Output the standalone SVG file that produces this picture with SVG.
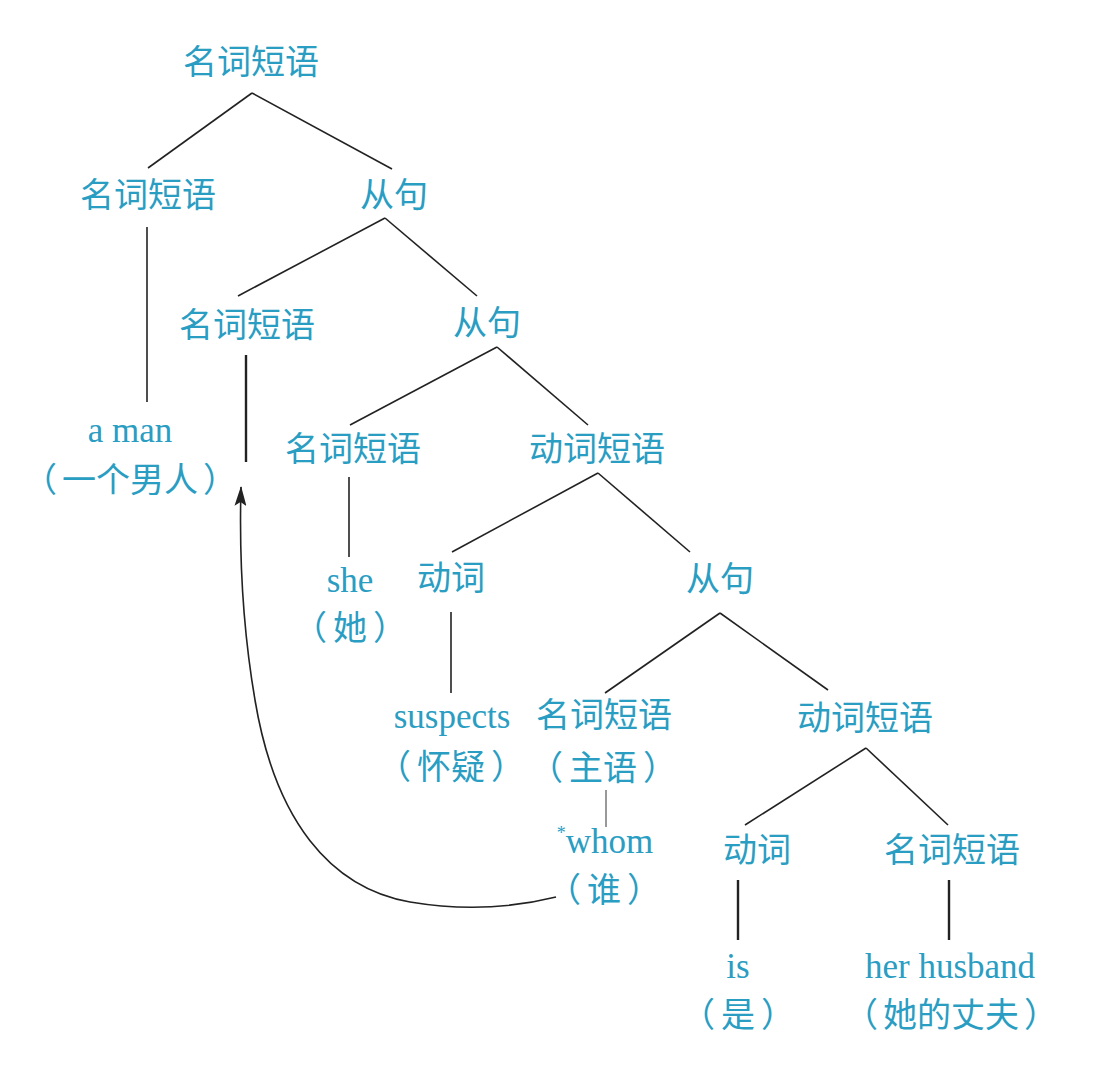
<svg xmlns="http://www.w3.org/2000/svg" width="1096" height="1076" viewBox="0 0 1096 1076">
<style>
.zh{font-family:"Noto Sans CJK SC","Noto Sans CJK JP",sans-serif;font-size:34px;fill:#2a9dc2;text-anchor:middle}
.en{font-family:"Liberation Serif","Times New Roman",serif;font-size:35px;fill:#2a9dc2;text-anchor:middle}
.ln{stroke:#222;stroke-width:1.6;fill:none}
.lt{stroke:#222;stroke-width:2.4;fill:none}
.th{stroke:#333;stroke-width:1;fill:none}
</style>
<defs>
<marker id="ah" viewBox="0 0 20 12" refX="19" refY="6" markerWidth="20" markerHeight="12" markerUnits="userSpaceOnUse" orient="auto">
<path d="M0,0 L20,6 L0,12 L4,6 Z" fill="#222"/>
</marker>
</defs>
<rect width="1096" height="1076" fill="#fff"/>
<g id="connectors">
<line class="ln" x1="252" y1="93" x2="148" y2="168"/>
<line class="ln" x1="252" y1="93" x2="392" y2="169"/>
<line class="ln" x1="147" y1="227" x2="147" y2="402"/>
<line class="ln" x1="385" y1="218" x2="238" y2="296"/>
<line class="ln" x1="385" y1="218" x2="477" y2="296"/>
<line class="lt" x1="246" y1="355" x2="246" y2="462"/>
<line class="ln" x1="497" y1="347" x2="350" y2="425"/>
<line class="ln" x1="497" y1="347" x2="588" y2="425"/>
<line class="ln" x1="349" y1="477" x2="349" y2="557"/>
<line class="ln" x1="598" y1="473" x2="452" y2="552"/>
<line class="ln" x1="598" y1="473" x2="690" y2="552"/>
<line class="ln" x1="451" y1="612" x2="451" y2="693"/>
<line class="ln" x1="720" y1="613" x2="605" y2="693"/>
<line class="ln" x1="720" y1="613" x2="828" y2="690"/>
<line class="th" x1="606" y1="790" x2="606" y2="827"/>
<line class="ln" x1="866" y1="748" x2="745" y2="825"/>
<line class="ln" x1="866" y1="748" x2="948" y2="825"/>
<line class="lt" x1="738" y1="880" x2="738" y2="940"/>
<line class="lt" x1="949" y1="880" x2="949" y2="940"/>
<path class="ln" d="M556,897 C520,906 470,912 410,902 C330,888 275,820 255,700 C243,630 239,560 241,487" marker-end="url(#ah)"/>
</g>
<g id="n-root"><text class="zh" x="251" y="74">名词短语</text></g>
<g id="n-np1"><text class="zh" x="148" y="207">名词短语</text></g>
<g id="n-s1"><text class="zh" x="394" y="207">从句</text></g>
<g id="n-aman"><text class="en" x="130" y="442">a man</text><text class="zh" x="130" y="492">（<tspan dx="5">一个男人</tspan><tspan dx="5">）</tspan></text></g>
<g id="n-np2"><text class="zh" x="247" y="337">名词短语</text></g>
<g id="n-s2"><text class="zh" x="487" y="335">从句</text></g>
<g id="n-np3"><text class="zh" x="353" y="461">名词短语</text></g>
<g id="n-vp1"><text class="zh" x="597" y="461">动词短语</text></g>
<g id="n-she"><text class="en" x="350" y="592">she</text><text class="zh" x="350" y="640">（<tspan dx="6">她</tspan><tspan dx="6">）</tspan></text></g>
<g id="n-v1"><text class="zh" x="451" y="590">动词</text></g>
<g id="n-s3"><text class="zh" x="720" y="591">从句</text></g>
<g id="n-suspects"><text class="en" x="452" y="728">suspects</text><text class="zh" x="451" y="779">（<tspan dx="6">怀疑</tspan><tspan dx="6">）</tspan></text></g>
<g id="n-np4"><text class="zh" x="604" y="727">名词短语</text><text class="zh" x="603" y="780">（<tspan dx="6">主语</tspan><tspan dx="6">）</tspan></text></g>
<g id="n-whom"><text class="en" x="605" y="853"><tspan font-size="18" dy="-14">*</tspan><tspan dy="14">whom</tspan></text><text class="zh" x="604" y="902">（<tspan dx="6">谁</tspan><tspan dx="6">）</tspan></text></g>
<g id="n-vp2"><text class="zh" x="865" y="730">动词短语</text></g>
<g id="n-v2"><text class="zh" x="757" y="862">动词</text></g>
<g id="n-np5"><text class="zh" x="952" y="862">名词短语</text></g>
<g id="n-is"><text class="en" x="738" y="978">is</text><text class="zh" x="738" y="1027">（<tspan dx="6">是</tspan><tspan dx="6">）</tspan></text></g>
<g id="n-husband"><text class="en" x="950" y="978">her husband</text><text class="zh" x="951" y="1027">（<tspan dx="5">她的丈夫</tspan><tspan dx="5">）</tspan></text></g>
</svg>
